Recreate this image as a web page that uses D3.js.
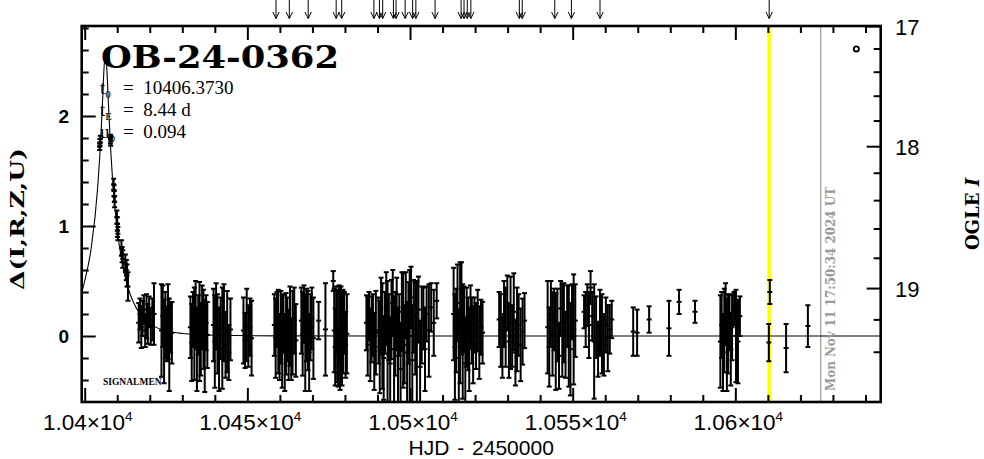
<!DOCTYPE html>
<html><head><meta charset="utf-8">
<script src="https://cdn.jsdelivr.net/npm/d3@7"></script>
<style>body{margin:0;background:#fff}svg{display:block}</style>
</head><body><svg id="c" width="984" height="459"></svg>
<script>
// ---------------- data ----------------
const eventName = "OB-24-0362";
const xTicksMajor = [10400, 10450, 10500, 10550, 10600];
const xTickMant = ["1.04", "1.045", "1.05", "1.055", "1.06"];
const yTicksMajor = [0, 1, 2];
const magTicksMajor = [17, 18, 19];
const magTicksMinor = [17.2, 17.4, 17.6, 17.8, 18.2, 18.4, 18.6, 18.8, 19.2, 19.4];
const paramNames = ["t", "t", "u"];
const paramSubs = ["0", "E", "0"];
const paramValues = ["10406.3730", "8.44 d", "0.094"];
const nowLabel = "Mon Nov 11 17:50:34 2024 UT";
const nowHjd = 10626.24;
const markHjd = 10610.4;
const legendDot = [10637.2, 2.61];

const alertHjd = [10458.8, 10462.9, 10468.7, 10477.3, 10479.0, 10488.9, 10490.6, 10491.6,
  10494.9, 10495.7, 10498.5, 10500.8, 10501.8, 10507.7, 10515.7, 10516.6, 10517.6, 10518.7,
  10533.6, 10534.5, 10544.5, 10549.6, 10558.4, 10610.4];

const modelT = [10399.08, 10400, 10402, 10404, 10405, 10405.5, 10406, 10406.37, 10406.8, 10407.3,
  10408, 10409, 10410, 10412, 10414, 10416, 10420, 10425, 10430, 10440, 10460, 10500, 10645];
const modelD = [0.39, 0.50, 0.80, 1.355, 1.83, 2.144, 2.463, 2.571, 2.433, 2.108,
  1.690, 1.262, 0.966, 0.593, 0.377, 0.247, 0.113, 0.048, 0.023, 0.007, 0.001, 0.0, 0.0];

const hjd = [
  // peak
  10404.6, 10404.7, 10404.8, 10407.9, 10408.0, 10408.9, 10409.0, 10409.1, 10409.2, 10409.9,
  10410.0, 10410.1, 10410.2, 10411.3, 10411.5, 10411.7, 10412.5, 10412.8, 10413.0, 10413.3,
  // A
  10416.6, 10417.0, 10417.4, 10417.8, 10418.2, 10418.6, 10419.0, 10419.4, 10419.8, 10420.3, 10420.8, 10421.3,
  // B
  10423.6, 10424.0, 10424.4, 10424.8, 10425.2, 10425.6, 10426.0, 10426.4, 10426.8,
  // C
  10432.5, 10432.9, 10433.3, 10433.7, 10434.1, 10434.5, 10434.9, 10435.3, 10435.7, 10436.1, 10436.5, 10436.9, 10437.3, 10437.7,
  // D
  10439.6, 10440.0, 10440.4, 10440.8, 10441.3, 10441.8, 10442.3, 10442.8, 10443.3, 10443.8, 10444.3, 10444.8,
  // E
  10448.8, 10449.3, 10449.8, 10450.3, 10450.8, 10451.3,
  // F
  10458.3, 10458.7, 10459.1, 10459.5, 10459.9, 10460.3, 10460.7, 10461.1, 10461.5, 10461.9, 10462.3, 10462.7, 10463.1, 10463.5, 10463.9, 10464.4, 10464.9,
  // G
  10466.6, 10467.0, 10467.4, 10467.8, 10468.2, 10468.6, 10469.0, 10469.4, 10469.8, 10470.3, 10471.9, 10474.0,
  // H
  10476.4, 10476.7, 10477.0, 10477.3, 10477.6, 10477.9, 10478.2, 10478.5, 10478.8, 10479.1, 10479.4, 10479.8, 10480.2, 10480.6,
  // I
  10486.6, 10487.0, 10487.4, 10487.8, 10488.2, 10488.6, 10489.0, 10489.5,
  // J
  10490.3, 10490.7, 10491.1, 10491.5, 10491.9, 10492.3, 10492.7, 10493.1, 10493.5, 10493.9,
  10494.3, 10494.7, 10495.1, 10495.5, 10495.9, 10496.3, 10496.7, 10497.1, 10497.5, 10497.9,
  10498.3, 10498.7, 10499.1, 10499.5, 10499.9, 10500.3, 10500.7, 10501.1, 10501.6, 10502.1,
  10502.6, 10503.1, 10503.6, 10504.1, 10504.6, 10505.1, 10505.8, 10506.5, 10507.3, 10508.2,
  // K
  10513.4, 10513.8, 10514.2, 10514.6, 10515.0, 10515.4, 10515.8, 10516.2, 10516.6, 10517.0, 10517.4,
  10517.8, 10518.2, 10518.6, 10519.0, 10519.4, 10519.8, 10520.3, 10520.8, 10521.3, 10521.8, 10522.3,
  // L
  10527.4, 10527.9, 10528.4, 10528.9, 10529.4, 10529.9, 10530.4, 10530.9, 10531.4, 10531.9, 10532.4, 10532.9, 10533.4, 10534.0, 10534.6, 10535.2,
  // M
  10542.3, 10542.8, 10543.3, 10543.8, 10544.3, 10544.8, 10545.3, 10545.8, 10546.3, 10546.8, 10547.3, 10547.8, 10548.3, 10548.8, 10549.3, 10549.8, 10550.3, 10550.8,
  // N
  10553.5, 10554.0, 10554.5, 10555.0, 10555.5, 10556.0, 10556.6, 10557.2, 10557.8, 10558.4, 10559.0, 10559.6, 10560.2, 10560.8, 10561.4, 10562.0,
  // singles
  10568.6, 10569.8, 10573.5, 10579.6, 10582.7, 10587.6,
  // O
  10595.4, 10595.8, 10596.2, 10596.6, 10597.0, 10597.4, 10597.8, 10598.2, 10598.6, 10599.0, 10599.6, 10600.2, 10600.8, 10601.4,
  // late
  10610.3, 10610.6, 10615.6, 10622.3
];
const delta = [
  1.72, 1.76, 1.79, 1.79, 1.77, 1.38, 1.32, 1.27, 1.22, 1.08,
  1.02, 0.96, 0.93, 0.80, 0.74, 0.70, 0.66, 0.60, 0.55, 0.45,
  0.12, 0.20, 0.08, 0.16, 0.24, 0.05, 0.18, 0.11, 0.22, 0.09, 0.15, 0.20,
  0.05, 0.18, -0.05, 0.10, 0.02, 0.13, -0.08, 0.07, 0.03,
  0.08, -0.06, 0.15, 0.02, 0.20, -0.12, 0.10, 0.04, -0.03, 0.17, 0.06, -0.09, 0.12, 0.01,
  0.10, -0.05, 0.18, 0.02, -0.12, 0.07, -0.02, 0.12, -0.08, 0.04, -0.15, 0.06,
  0.05, -0.04, 0.10, 0.00, 0.08, -0.02,
  0.10, -0.02, 0.15, 0.04, -0.10, 0.08, -0.05, 0.12, -0.15, 0.02, 0.06, -0.08, 0.09, -0.12, 0.03, 0.14, -0.04,
  0.14, 0.02, 0.20, -0.06, 0.10, 0.05, -0.15, 0.08, 0.16, -0.02, 0.14, 0.06,
  0.50, 0.05, -0.10, 0.15, 0.00, -0.18, 0.10, -0.05, 0.20, -0.12, 0.04, 0.12, -0.08, 0.02,
  0.12, 0.00, 0.18, -0.08, 0.06, 0.10, -0.14, 0.03,
  0.05, -0.10, 0.18, 0.00, -0.20, 0.12, 0.25, -0.05, 0.08, -0.25,
  0.15, 0.30, -0.12, 0.02, 0.20, -0.18, 0.10, -0.30, 0.22, 0.05,
  -0.08, 0.28, -0.15, 0.12, 0.00, 0.35, -0.22, 0.18, 0.07, -0.05,
  0.24, -0.28, 0.10, 0.16, -0.12, 0.20, 0.05, 0.26, 0.12, 0.32,
  0.20, -0.10, 0.05, 0.30, -0.20, 0.12, 0.25, -0.05, 0.15, -0.25, 0.08,
  0.02, -0.12, 0.18, 0.05, -0.08, 0.10, 0.00, 0.14, -0.06, 0.08, 0.03,
  0.15, 0.05, -0.10, 0.20, 0.08, 0.30, -0.05, 0.12, 0.00, 0.22, -0.15, 0.06, 0.10, -0.08, 0.04, 0.14,
  0.08, -0.10, 0.20, 0.02, 0.15, -0.05, 0.10, -0.18, 0.25, 0.05, 0.12, -0.08, 0.18, 0.00, -0.12, 0.22, 0.06, 0.14,
  0.22, 0.15, 0.28, 0.10, 0.44, 0.18, -0.05, 0.08, -0.12, 0.12, 0.02, -0.08, 0.10, -0.02, 0.06, 0.15,
  0.04, 0.03, 0.15, 0.07, 0.31, 0.22,
  -0.05, 0.10, -0.15, 0.05, 0.20, -0.08, 0.02, 0.12, -0.12, 0.08, 0.25, 0.00, -0.05, 0.18,
  -0.06, 0.40, -0.11, 0.09
];
const err = [
  0.03, 0.03, 0.03, 0.04, 0.04, 0.05, 0.05, 0.05, 0.05, 0.06,
  0.06, 0.06, 0.06, 0.07, 0.07, 0.08, 0.08, 0.09, 0.10, 0.13,
  0.18, 0.14, 0.19, 0.16, 0.13, 0.15, 0.20, 0.18, 0.14, 0.17, 0.19, 0.28,
  0.42, 0.28, 0.38, 0.30, 0.25, 0.34, 0.42, 0.22, 0.28,
  0.28, 0.35, 0.25, 0.42, 0.30, 0.38, 0.27, 0.45, 0.33, 0.29, 0.36, 0.42, 0.25, 0.30,
  0.33, 0.42, 0.30, 0.36, 0.38, 0.28, 0.46, 0.35, 0.30, 0.37, 0.25, 0.28,
  0.30, 0.25, 0.33, 0.28, 0.26, 0.34,
  0.28, 0.36, 0.25, 0.38, 0.30, 0.33, 0.42, 0.26, 0.35, 0.37, 0.29, 0.32, 0.36, 0.28, 0.38, 0.30, 0.33,
  0.30, 0.38, 0.26, 0.44, 0.33, 0.36, 0.35, 0.30, 0.28, 0.37, 0.17, 0.42,
  0.09, 0.38, 0.35, 0.30, 0.42, 0.28, 0.36, 0.44, 0.25, 0.33, 0.38, 0.28, 0.30, 0.36,
  0.25, 0.36, 0.22, 0.33, 0.30, 0.28, 0.35, 0.38,
  0.30, 0.42, 0.35, 0.48, 0.38, 0.28, 0.33, 0.55, 0.30, 0.42,
  0.36, 0.30, 0.48, 0.38, 0.33, 0.44, 0.28, 0.42, 0.36, 0.52,
  0.35, 0.30, 0.46, 0.37, 0.60, 0.28, 0.50, 0.33, 0.42, 0.55,
  0.30, 0.42, 0.35, 0.28, 0.38, 0.25, 0.42, 0.22, 0.30, 0.16,
  0.42, 0.48, 0.38, 0.35, 0.44, 0.55, 0.42, 0.52, 0.30, 0.42, 0.36,
  0.33, 0.38, 0.28, 0.30, 0.35, 0.25, 0.30, 0.28, 0.33, 0.25, 0.28,
  0.25, 0.33, 0.28, 0.30, 0.36, 0.25, 0.33, 0.42, 0.28, 0.35, 0.30, 0.38, 0.28, 0.33, 0.30, 0.25,
  0.42, 0.36, 0.30, 0.38, 0.28, 0.44, 0.33, 0.30, 0.25, 0.42, 0.36, 0.30, 0.28, 0.46, 0.42, 0.25, 0.50, 0.33,
  0.15, 0.25, 0.19, 0.30, 0.15, 0.22, 0.52, 0.28, 0.25, 0.30, 0.36, 0.28, 0.25, 0.30, 0.22, 0.17,
  0.22, 0.21, 0.12, 0.25, 0.11, 0.10,
  0.42, 0.30, 0.35, 0.38, 0.28, 0.42, 0.36, 0.25, 0.33, 0.30, 0.15, 0.42, 0.38, 0.18,
  0.17, 0.11, 0.22, 0.19
];

// ---------------- layout ----------------
const L = 81.7, R = 880.7, T = 26, B = 402;
const svg = d3.select("#c");
const x = d3.scaleLinear().domain([10399.08, 10644.68]).range([L, R]);
const y = d3.scaleLinear().domain([-0.6, 2.8182]).range([B, T]);
const magV = m => Math.pow(10, 0.072 * (m - 17));
const yMagV = d3.scaleLinear().domain([magV(17), magV(18)]).range([26.5, 146.7]);
const magY = m => yMagV(magV(m));

svg.append("defs").append("clipPath").attr("id", "plot")
  .append("rect").attr("x", L).attr("y", T).attr("width", R - L).attr("height", B - T);

const plot = svg.append("g").attr("clip-path", "url(#plot)");

plot.append("line").attr("x1", x(markHjd)).attr("x2", x(markHjd)).attr("y1", T).attr("y2", B)
  .attr("stroke", "#ffff00").attr("stroke-width", 3.5);
plot.append("line").attr("x1", x(nowHjd)).attr("x2", x(nowHjd)).attr("y1", T).attr("y2", B)
  .attr("stroke", "#999999").attr("stroke-width", 1.2);

const model = modelT.map((t, i) => [t, modelD[i]]);
plot.append("path").datum(model)
  .attr("d", d3.line().x(d => x(d[0])).y(d => y(d[1])).curve(d3.curveMonotoneX))
  .attr("fill", "none").attr("stroke", "#000").attr("stroke-width", 1.1);

const pts = hjd.map((t, i) => ({ t, d: delta[i], e: err[i] }));
const eb = plot.append("g").attr("stroke", "#000").attr("stroke-width", 2).attr("fill", "none");
const cap = 2.5;
const g1 = eb.selectAll("g").data(pts).join("g");
g1.append("line").attr("x1", d => x(d.t)).attr("x2", d => x(d.t))
  .attr("y1", d => y(d.d - d.e)).attr("y2", d => y(d.d + d.e));
g1.append("line").attr("x1", d => x(d.t) - cap).attr("x2", d => x(d.t) + cap)
  .attr("y1", d => y(d.d - d.e)).attr("y2", d => y(d.d - d.e));
g1.append("line").attr("x1", d => x(d.t) - cap).attr("x2", d => x(d.t) + cap)
  .attr("y1", d => y(d.d + d.e)).attr("y2", d => y(d.d + d.e));
g1.append("line").attr("x1", d => x(d.t) - cap).attr("x2", d => x(d.t) + cap)
  .attr("y1", d => y(d.d)).attr("y2", d => y(d.d));

plot.append("circle").attr("cx", x(legendDot[0])).attr("cy", y(legendDot[1])).attr("r", 2.6)
  .attr("fill", "none").attr("stroke", "#000").attr("stroke-width", 1.8);

svg.append("text").attr("x", 103).attr("y", 384.5).text("SIGNALMEN")
  .attr("font-family", "Liberation Serif").attr("font-weight", "bold").attr("font-size", 9.5);

// ---------------- axes ----------------
const xMinor = d3.range(10400, 10641, 10).filter(v => v % 50 !== 0);
function styleAxis(g) { g.select(".domain").remove(); g.selectAll("line").attr("stroke", "#000").attr("stroke-width", 2); g.selectAll("text").remove(); }
svg.append("g").attr("transform", `translate(0,${B})`).call(d3.axisBottom(x).tickValues(xTicksMajor).tickSize(-14)).call(styleAxis);
svg.append("g").attr("transform", `translate(0,${B})`).call(d3.axisBottom(x).tickValues(xMinor).tickSize(-7)).call(styleAxis);
svg.append("g").attr("transform", `translate(0,${T})`).call(d3.axisTop(x).tickValues(xTicksMajor).tickSize(-14)).call(styleAxis);
svg.append("g").attr("transform", `translate(0,${T})`).call(d3.axisTop(x).tickValues(xMinor).tickSize(-7)).call(styleAxis);

const yMinor = d3.range(-4, 29, 2).filter(k => k % 10 !== 0).map(k => k / 10);
svg.append("g").attr("transform", `translate(${L},0)`).call(d3.axisLeft(y).tickValues(yTicksMajor).tickSize(-14)).call(styleAxis);
svg.append("g").attr("transform", `translate(${L},0)`).call(d3.axisLeft(y).tickValues(yMinor).tickSize(-7)).call(styleAxis);

const rg = svg.append("g").attr("stroke", "#000").attr("stroke-width", 2);
rg.selectAll("line.maj").data(magTicksMajor).join("line").attr("class", "maj")
  .attr("x1", R - 14).attr("x2", R).attr("y1", d => magY(d)).attr("y2", d => magY(d));
rg.selectAll("line.min").data(magTicksMinor).join("line").attr("class", "min")
  .attr("x1", R - 7).attr("x2", R).attr("y1", d => magY(d)).attr("y2", d => magY(d));

svg.append("rect").attr("x", L).attr("y", T).attr("width", R - L).attr("height", B - T)
  .attr("fill", "none").attr("stroke", "#000").attr("stroke-width", 2.6);

const ar = svg.append("g").attr("stroke", "#000").attr("stroke-width", 1).attr("fill", "none");
ar.selectAll("line").data(alertHjd).join("line")
  .attr("x1", d => x(d)).attr("x2", d => x(d)).attr("y1", 0).attr("y2", 18.5);
ar.selectAll("polyline").data(alertHjd).join("polyline")
  .attr("points", d => `${x(d) - 3.2},${12} ${x(d)},${18.5} ${x(d) + 3.2},${12}`);

// tick labels
const lab = svg.append("g").attr("fill", "#000");
const xl = lab.selectAll("text.xl").data(xTicksMajor).join("text").attr("class", "xl")
  .attr("x", d => x(d) + 3).attr("y", 430).attr("text-anchor", "middle")
  .attr("font-family", "Liberation Sans").attr("font-size", 22.5);
xl.append("tspan").text((d, i) => xTickMant[i] + "\u00d710");
xl.append("tspan").text("4").attr("font-size", 13.5).attr("dy", -9);

lab.selectAll("text.yl").data(yTicksMajor).join("text").attr("class", "yl")
  .attr("x", 69).attr("y", d => y(d) + 7).attr("text-anchor", "end")
  .attr("font-family", "Liberation Sans").attr("font-weight", "bold").attr("font-size", 19)
  .text(d => d);

lab.selectAll("text.ml").data(magTicksMajor).join("text").attr("class", "ml")
  .attr("x", 895).attr("y", d => magY(d) + 8).attr("text-anchor", "start")
  .attr("font-family", "Liberation Sans").attr("font-size", 22)
  .text(d => d);

// axis titles
svg.append("text").attr("x", (L + R) / 2).attr("y", 454.5).attr("text-anchor", "middle")
  .attr("font-family", "Liberation Sans").attr("font-size", 21).attr("word-spacing", 2)
  .text("HJD - 2450000");
svg.append("text").attr("transform", `translate(24,${(T + B) / 2 + 5}) rotate(-90)`).attr("text-anchor", "middle")
  .attr("font-family", "DejaVu Serif").attr("font-weight", "bold").attr("font-size", 19)
  .attr("textLength", 142).attr("lengthAdjust", "spacingAndGlyphs")
  .text("\u0394(I,R,Z,U)");
const og = svg.append("text").attr("transform", `translate(979,${(T + B) / 2}) rotate(-90)`).attr("text-anchor", "middle")
  .attr("font-family", "DejaVu Serif").attr("font-weight", "bold").attr("font-size", 18);
og.append("tspan").text("OGLE ");
og.append("tspan").attr("font-style", "italic").text("I");

svg.append("text").attr("transform", `translate(834.5,391) rotate(-90)`)
  .attr("font-family", "DejaVu Serif").attr("font-weight", "bold").attr("font-size", 12)
  .attr("fill", "#999999").attr("textLength", 204).attr("lengthAdjust", "spacingAndGlyphs")
  .text(nowLabel);

// title and parameters
svg.append("text").attr("x", 101).attr("y", 68)
  .attr("font-family", "DejaVu Serif").attr("font-weight", "bold").attr("font-size", 32)
  .attr("textLength", 238).attr("lengthAdjust", "spacingAndGlyphs")
  .text(eventName);
const pt = svg.append("g").attr("font-family", "Liberation Serif").attr("font-size", 19);
paramNames.forEach((n, i) => {
  const yy = 94 + i * 22;
  const t = pt.append("text").attr("x", 100).attr("y", yy);
  t.append("tspan").text(n);
  t.append("tspan").text(paramSubs[i]).attr("font-size", 11).attr("dy", 4);
  pt.append("text").attr("x", 123).attr("y", yy).attr("xml:space", "preserve").text("=  " + paramValues[i]);
});
</script>
</body></html>
